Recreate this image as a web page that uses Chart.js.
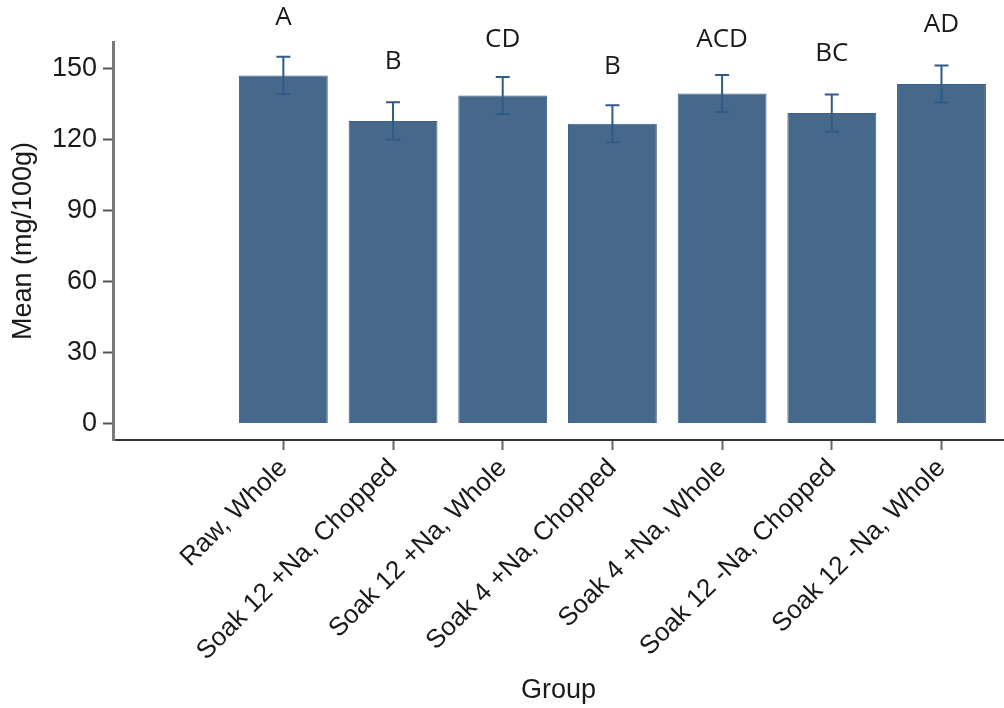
<!DOCTYPE html>
<html>
<head>
<meta charset="utf-8">
<script src="https://cdn.jsdelivr.net/npm/chart.js@4/dist/chart.umd.min.js"></script>
<style>
  html, body { margin: 0; padding: 0; background: #fff; }
  #wrap { width: 1004px; height: 708px; }
</style>
</head>
<body>
<div id="wrap"><canvas id="c" width="1004" height="708"></canvas></div>
<script>
// Groups, means, error half-widths and significance letters
const categories = [
  'Raw, Whole',
  'Soak 12 +Na, Chopped',
  'Soak 12 +Na, Whole',
  'Soak 4 +Na, Chopped',
  'Soak 4 +Na, Whole',
  'Soak 12 -Na, Chopped',
  'Soak 12 -Na, Whole'
];
const means = [146.9, 127.7, 138.4, 126.5, 139.3, 131.0, 143.3];
const errors = [7.9, 7.9, 7.8, 7.8, 7.8, 7.8, 7.8];
const letters = ['A', 'B', 'CD', 'B', 'ACD', 'BC', 'AD'];
const yTickValues = [0, 30, 60, 90, 120, 150];

const yTickFont = { family: "'Liberation Sans', Arial, sans-serif", size: 27 };
const xTickFont = { family: "'Liberation Sans', Arial, sans-serif", size: 26 };
const titleFont = { family: "'Liberation Sans', Arial, sans-serif", size: 27 };
const letterGap = [39, 41, 37, 39, 35, 41, 41];

// Error bars with caps, then the group letters above them
const errorBarPlugin = {
  id: 'errorBars',
  afterDatasetsDraw(chart) {
    const ctx = chart.ctx;
    const xs = chart.scales.x, ys = chart.scales.y;
    ctx.save();
    ctx.strokeStyle = '#2f5b86';
    ctx.lineWidth = 2;
    means.forEach((m, i) => {
      const x = xs.getPixelForValue(i);
      const yTop = ys.getPixelForValue(m + errors[i]);
      const yBot = ys.getPixelForValue(m - errors[i]);
      ctx.beginPath();
      ctx.moveTo(x, yTop); ctx.lineTo(x, yBot);
      ctx.moveTo(x - 7, yTop); ctx.lineTo(x + 7, yTop);
      ctx.moveTo(x - 7, yBot); ctx.lineTo(x + 7, yBot);
      ctx.stroke();
    });
    ctx.fillStyle = '#1a1a1a';
    ctx.font = "26px 'Open Sans', sans-serif";
    ctx.textAlign = 'center';
    ctx.textBaseline = 'middle';
    letters.forEach((t, i) => {
      const x = xs.getPixelForValue(i);
      const y = ys.getPixelForValue(means[i] + errors[i]) - letterGap[i];
      ctx.fillText(t, x, y);
    });
    ctx.restore();
  }
};

new Chart(document.getElementById('c'), {
  type: 'bar',
  data: {
    datasets: [{
      data: means.map((v, i) => ({ x: i, y: v })),
      backgroundColor: '#46688a',
      borderColor: '#3e6084',
      borderWidth: 1,
      categoryPercentage: 0.81,
      barPercentage: 1
    }]
  },
  options: {
    responsive: false,
    animation: false,
    devicePixelRatio: 1,
    layout: { padding: { top: 42, right: 0, left: 0, bottom: 0 } },
    plugins: { legend: { display: false }, tooltip: { enabled: false } },
    scales: {
      x: {
        type: 'linear',
        offset: false,
        min: -1.553,
        max: 6.57,
        afterFit: s => { s.height = 268; },
        afterBuildTicks: s => { s.ticks = categories.map((_, i) => ({ value: i })); },
        ticks: {
          callback: v => categories[v],
          autoSkip: false,
          minRotation: 45,
          maxRotation: 45,
          font: xTickFont,
          color: '#1a1a1a',
          padding: 3
        },
        grid: { offset: false, drawOnChartArea: false, tickLength: 10, tickColor: '#666', tickWidth: 2 },
        border: { color: '#333', width: 2 },
        title: { display: true, text: 'Group', font: titleFont, color: '#1a1a1a', padding: { top: 0, bottom: 1 } }
      },
      y: {
        min: -7,
        max: 161,
        afterFit: s => { s.width = 113; },
        afterBuildTicks: s => { s.ticks = yTickValues.map(v => ({ value: v })); },
        ticks: { font: yTickFont, color: '#1a1a1a', padding: 6 },
        grid: { drawOnChartArea: false, tickLength: 10, tickColor: '#555', tickWidth: 2 },
        border: { color: '#7a7a7a', width: 3 },
        title: { display: true, text: 'Mean (mg/100g)', font: titleFont, color: '#1a1a1a', padding: { top: 7, bottom: 0 } }
      }
    }
  },
  plugins: [errorBarPlugin]
});
</script>
</body>
</html>
